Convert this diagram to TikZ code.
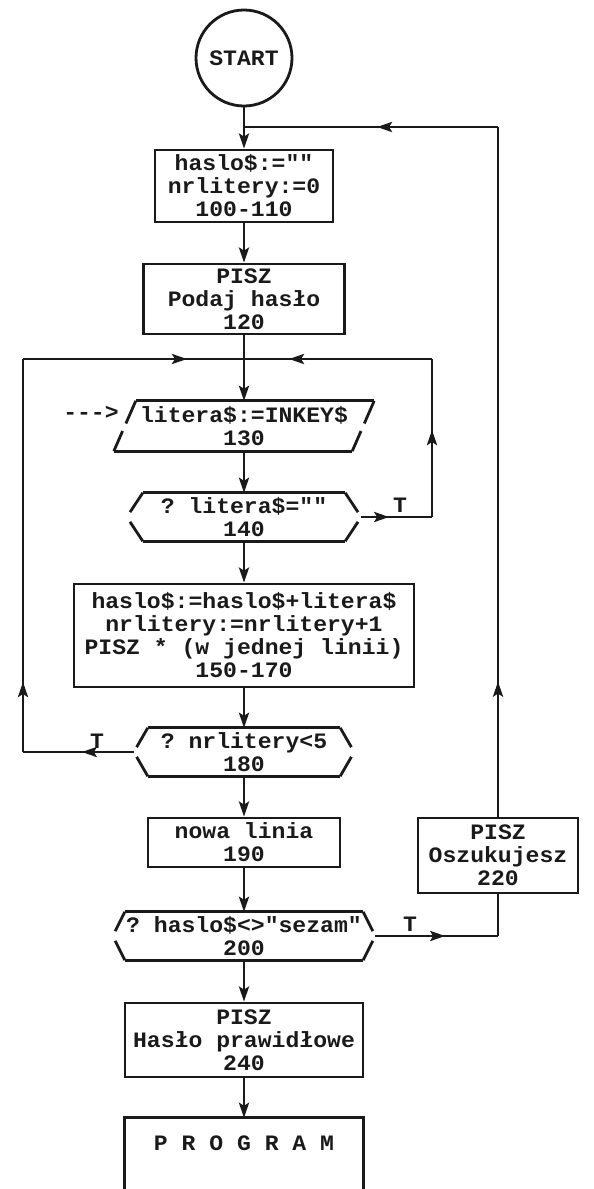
\documentclass[tikz,border=0pt]{standalone}
\usepackage{fontspec}
\setmonofont{Liberation Mono}[FakeStretch=1.05]
\usetikzlibrary{arrows.meta,calc,decorations.markings}
\definecolor{FCInk}{HTML}{1A1A1A}

\tikzset{
  fcline/.style={FCInk,line width=2.8pt},
  fcarrow/.style={fcline,-{Stealth[length=15pt,width=10pt,inset=3pt]}},
  fcmid/.style={fcline,postaction=decorate,decoration={markings,mark=at position #1 with {\arrow{Stealth[length=15pt,width=10pt,inset=3pt]}}}},
  fctext/.style={FCInk,font=\ttfamily\bfseries\fontsize{22}{23}\selectfont,align=center,inner sep=0pt},
  fcbox/.style 2 args={fctext,draw,fcline,minimum width=#1,minimum height=#2},
  fcshape/.style 2 args={fctext,minimum width=#1,minimum height=#2},
}

\begin{document}
\begin{tikzpicture}[x=1pt,y=-1pt]
\path[use as bounding box] (0,0) rectangle (594,1189);
\fill[white] (0,0) rectangle (594,1189);
\node[fctext,draw,fcline,circle,minimum size=96pt] (start) at (244,58) {START};
\node[fcbox={178pt}{72pt}] (b100) at (244,186) {haslo\$:=""\\nrlitery:=0\\100-110};
\node[fcbox={201pt}{70pt}] (b120) at (244,299) {PISZ\\Podaj hasło\\120};
\node[fcshape={238pt}{50pt}] (p130) at (244,426) {litera\$:=INKEY\$\\130};
\node[fctext] (inkey) at (91,413) {--->};
\node[fcshape={202pt}{48pt}] (d140) at (244,517) {? litera\$=""\\140};
\node[fcbox={340pt}{103pt}] (b150) at (244,635.5) {haslo\$:=haslo\$+litera\$\\nrlitery:=nrlitery+1\\PISZ * (w jednej linii)\\150-170};
\node[fcshape={192pt}{48pt}] (d180) at (244,752) {? nrlitery<5\\180};
\node[fcbox={192pt}{49pt}] (b190) at (244,842.5) {nowa linia\\190};
\node[fcshape={238pt}{48pt}] (d200) at (244,936) {? haslo\$<>"sezam"\\200};
\node[fcbox={160pt}{75pt}] (b220) at (498,855.5) {PISZ\\Oszukujesz\\220};
\node[fcbox={238pt}{74pt}] (b240) at (244,1040) {PISZ\\Hasło prawidłowe\\240};
\node[fcshape={238pt}{50pt}] (prog) at (244,1143) {P R O G R A M};
\node[fctext] (t140) at (400,505) {T};
\node[fctext] (t180) at (97,741) {T};
\node[fctext] (t200) at (410,924) {T};

\foreach \n/\e in {d140/16,d180/14,d200/12}{
  \coordinate (\n-l) at ($(\n.west)+(-\e,0)$);
  \coordinate (\n-r) at ($(\n.east)+(\e,0)$);
  \draw[fcline] (\n.north west) -- (\n.north east) (\n.south west) -- (\n.south east);
  \draw[fcline] (\n.north west) -- ($(\n.north west)!.8!(\n-l)$) ($(\n-l)!.2!(\n.south west)$) -- (\n.south west);
  \draw[fcline] (\n.north east) -- ($(\n.north east)!.8!(\n-r)$) ($(\n-r)!.2!(\n.south east)$) -- (\n.south east);
}
\coordinate (p-tl) at ($(p130.north west)+(11,0)$);
\coordinate (p-tr) at ($(p130.north east)+(11,0)$);
\coordinate (p-bl) at ($(p130.south west)+(-11,0)$);
\coordinate (p-br) at ($(p130.south east)+(-11,0)$);
\draw[fcline] (p-tl) -- (p-tr) (p-bl) -- (p-br);
\draw[fcline] (p-tl) -- ($(p-tl)!.45!(p-bl)$) ($(p-tl)!.6!(p-bl)$) -- (p-bl);
\draw[fcline] (p-tr) -- ($(p-tr)!.45!(p-br)$) ($(p-tr)!.6!(p-br)$) -- (p-br);
\coordinate (pend) at (0,1195);
\draw[fcline] (prog.north west |- pend) -- (prog.north west) -- (prog.north east) -- (prog.north east |- pend);

\coordinate (j1) at (244,359);
\coordinate (lt) at (23,359);
\coordinate (lb) at (23,752);
\coordinate (rt) at (432,359);
\coordinate (rb) at (432,517);
\coordinate (ft) at (498,127);
\coordinate (fj) at (244,127);
\coordinate (dr) at (498,936);

\draw[fcarrow] (start) -- (b100);
\draw[fcarrow] (b100) -- (b120);
\draw[fcline] (b120) -- (j1);
\draw[fcarrow] (j1) -- (p130);
\draw[fcarrow] (p130) -- (d140);
\draw[fcarrow] (d140) -- (b150);
\draw[fcarrow] (b150) -- (d180);
\draw[fcarrow] (d180) -- (b190);
\draw[fcarrow] (b190) -- (d200);
\draw[fcarrow] (d200) -- (b240);
\draw[fcarrow] (b240) -- (prog.north);

\draw[fcmid=52pt] (d180-l) -- (lb);
\draw[fcmid=70pt] (lb) -- (lt);
\draw[fcmid=164pt] (lt) -- (j1);
\draw[fcmid=28pt] (d140-r) -- (rb);
\draw[fcmid=87pt] (rb) -- (rt);
\draw[fcmid=143pt] (rt) -- (j1);

\draw[fcmid=70pt] (d200-r) -- (dr);
\draw[fcline] (dr) -- (b220);
\draw[fcmid=135pt] (b220) -- (ft);
\draw[fcmid=121pt] (ft) -- (fj);
\end{tikzpicture}
\end{document}
